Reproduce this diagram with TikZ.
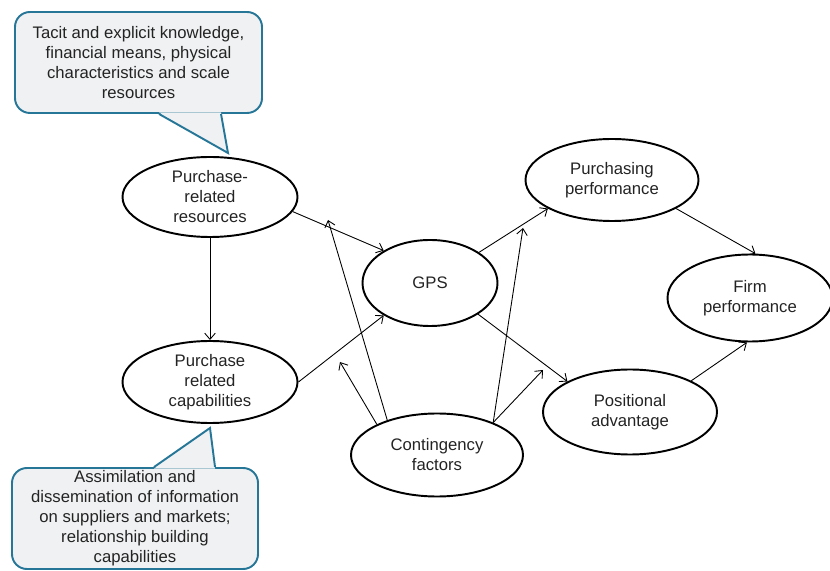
\documentclass[tikz,border=0pt]{standalone}
\usepackage{fontspec}
\setmainfont{Liberation Sans}
\usetikzlibrary{shapes, arrows.meta, positioning, calc}
\definecolor{notefill}{RGB}{240, 241, 243}
\definecolor{noteblue}{RGB}{38, 118, 152}
\definecolor{textgray}{RGB}{35, 35, 35}

\begin{document}
\begin{tikzpicture}[
  concept/.style={ellipse, draw=black, line width=1.1pt, inner sep=0pt, align=center, text=textgray, font=\fontsize{9.5}{11.4}\selectfont},
  note/.style={draw=noteblue, fill=notefill, line width=1.1pt, rounded corners=8.5pt, inner sep=0pt, align=center, text=textgray, font=\fontsize{9.5}{11.4}\selectfont},
  pointer/.style={draw=noteblue, line width=1.1pt, line join=miter},
  link/.style={-{Straight Barb[length=3.5pt, width=6pt]}, line width=0.5pt}
]
  \useasboundingbox (0,0) rectangle (16.6,11.4);

  % constructs
  \node[concept, minimum width=3.5cm, minimum height=1.6cm] (res) at (4.2, 7.46) {Purchase-\\related\\resources};
  \node[concept, minimum width=3.5cm, minimum height=1.64cm] (cap) at (4.2, 3.76) {Purchase\\related\\capabilities};
  \node[concept, minimum width=2.7cm, minimum height=1.72cm] (gps) at (8.6, 5.74) {GPS};
  \node[concept, minimum width=3.44cm, minimum height=1.66cm] (cont) at (8.74, 2.3) {Contingency\\factors};
  \node[concept, minimum width=3.46cm, minimum height=1.64cm] (pp) at (12.24, 7.8) {Purchasing\\performance};
  \node[concept, minimum width=3.3cm, minimum height=1.74cm] (firm) at (15.0, 5.44) {Firm\\performance};
  \node[concept, minimum width=3.48cm, minimum height=1.7cm] (pos) at (12.6, 3.16) {Positional\\advantage};

  % callouts
  \node[note, minimum width=4.94cm, minimum height=2.02cm] (note1) at (2.77, 10.15)
    {Tacit and explicit knowledge,\\financial means, physical\\characteristics and scale\\resources};
  \coordinate (tip1) at (4.56, 8.34);
  \fill[notefill] ($(note1.south west)+(2.9,0.03)$) -- (tip1) -- ($(note1.south west)+(4.14,0.03)$) -- cycle;
  \draw[pointer] ($(note1.south west)+(2.9,0)$) -- (tip1) -- ($(note1.south west)+(4.14,0)$);

  \node[note, minimum width=4.92cm, minimum height=2.02cm] (note2) at (2.7, 1.03)
    {Assimilation and\\dissemination of information\\on suppliers and markets;\\relationship building\\capabilities};
  \coordinate (tip2) at (4.2, 2.84);
  \fill[notefill] ($(note2.north west)+(2.86,-0.03)$) -- (tip2) -- ($(note2.north west)+(4.08,-0.03)$) -- cycle;
  \draw[pointer] ($(note2.north west)+(2.86,0)$) -- (tip2) -- ($(note2.north west)+(4.08,0)$);

  % main paths
  \draw[link] (res.350) -- (gps.145);
  \draw[link] (res.south) -- (cap.north);
  \draw[link] (cap.east) -- (gps.215);
  \draw[link] (gps.32) -- (pp.204);
  \draw[link] (gps.327) -- (pos.154);
  \draw[link] (pp.336) -- (firm.83);
  \draw[link] (pos.27) -- (firm.266);

  % moderating effects
  \coordinate (m1) at (6.56, 7.0);
  \coordinate (m2) at (6.8, 4.16);
  \coordinate (m3) at (10.46, 6.84);
  \coordinate (m4) at (10.86, 4.0);
  \draw[link] (cont.145) -- (m1);
  \draw[link] (cont.153) -- (m2);
  \draw[link] (cont.30) -- (m3);
  \draw[link] (cont.30) -- (m4);
\end{tikzpicture}
\end{document}
